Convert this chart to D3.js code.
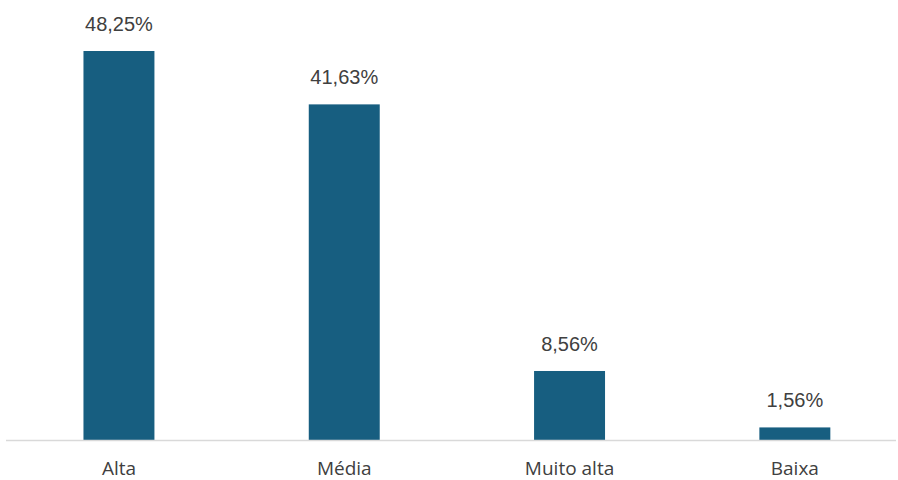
<!DOCTYPE html>
<html>
<head>
<meta charset="utf-8">
<script src="https://cdn.jsdelivr.net/npm/d3@7/dist/d3.min.js"></script>
<style>
  html, body { margin: 0; padding: 0; background: #fff; }
</style>
</head>
<body>
<svg id="chart" width="898" height="480"></svg>
<script>
const categories = ["Alta", "Média", "Muito alta", "Baixa"];
const values = [48.25, 41.63, 8.56, 1.56];
const valueLabels = ["48,25%", "41,63%", "8,56%", "1,56%"];

const svg = d3.select("#chart");
const baseY = 440;

const x = d3.scaleBand()
  .domain(categories)
  .range([6.3, 907.5])
  .paddingInner(0.685)
  .paddingOuter(0.3425);

const y = d3.scaleLinear()
  .domain([0, 50])
  .range([baseY, baseY - 50 * 8.062]);

const data = categories.map((c, i) => ({ c, v: values[i], label: valueLabels[i] }));

svg.selectAll("rect.bar")
  .data(data)
  .join("rect")
  .attr("class", "bar")
  .attr("x", d => x(d.c))
  .attr("width", x.bandwidth())
  .attr("y", d => y(d.v))
  .attr("height", d => y(0) - y(d.v))
  .attr("fill", "#175e80");

// axis line
svg.append("line")
  .attr("x1", 6).attr("x2", 896)
  .attr("y1", baseY + 0.5).attr("y2", baseY + 0.5)
  .attr("stroke", "#d9d9d9")
  .attr("stroke-width", 1.5);

svg.selectAll("text.val")
  .data(data)
  .join("text")
  .attr("class", "val")
  .attr("x", d => x(d.c) + x.bandwidth() / 2)
  .attr("y", d => y(d.v) - 20)
  .attr("text-anchor", "middle")
  .attr("font-family", "Liberation Sans, Arial, sans-serif")
  .attr("font-size", 20)
  .attr("fill", "#404040")
  .text(d => d.label);

svg.selectAll("text.cat")
  .data(data)
  .join("text")
  .attr("class", "cat")
  .attr("x", d => x(d.c) + x.bandwidth() / 2)
  .attr("y", 475)
  .attr("text-anchor", "middle")
  .attr("font-family", "Open Sans, sans-serif")
  .attr("font-size", 19)
  .attr("fill", "#404040")
  .text(d => d.c);
</script>
</body>
</html>
